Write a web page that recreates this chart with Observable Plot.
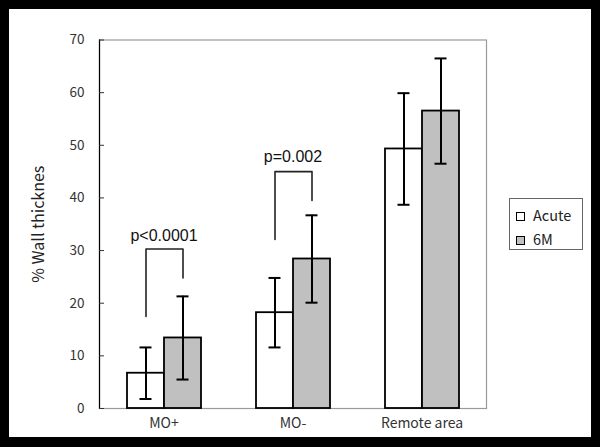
<!DOCTYPE html>
<html><head><meta charset="utf-8">
<script src="https://cdn.jsdelivr.net/npm/d3@7"></script>
<script src="https://cdn.jsdelivr.net/npm/@observablehq/plot@0.6"></script>
<style>
html,body{margin:0;padding:0;background:#000;width:600px;height:447px;overflow:hidden;}
#wrap{position:absolute;left:9px;top:9px;width:582px;height:428px;background:#fff;}
#legend{position:absolute;left:500px;top:189px;width:72px;height:50px;border:1px solid #666;background:#fff;font-family:"Noto Sans CJK JP","Liberation Sans",sans-serif;font-size:14.5px;color:#222;}
.item{position:absolute;left:6px;height:16px;line-height:16px;}
.sw{position:absolute;left:0;top:3px;width:7px;height:7px;border:1.5px solid #000;}
.lab{position:absolute;left:17px;top:-2px;white-space:nowrap;}
</style></head>
<body>
<div id="wrap"></div>
<script>
const groups = ["MO+", "MO-", "Remote area"];
const series = ["Acute", "6M"];
const seriesFill = ["#ffffff", "#c0c0c0"];
const acuteMean = [6.7, 18.2, 49.3];
const acuteSD = [4.9, 6.6, 10.6];
const m6Mean = [13.4, 28.4, 56.5];
const m6SD = [7.9, 8.3, 10.0];
const pLabels = ["p<0.0001", "p=0.002"];
const pGroups = ["MO+", "MO-"];
const pTextY = [31.9, 46.8];
const bracketTop = [30.3, 45.0];
const bracketLeftEnd = [17.5, 32.1];
const bracketRightEnd = [24.8, 39.5];
const yTicks = [0, 10, 20, 30, 40, 50, 60, 70];

const rows = [];
groups.forEach((g, i) => {
  rows.push({group: g, series: "Acute", mean: acuteMean[i], lo: acuteMean[i] - acuteSD[i], hi: acuteMean[i] + acuteSD[i]});
  rows.push({group: g, series: "6M", mean: m6Mean[i], lo: m6Mean[i] - m6SD[i], hi: m6Mean[i] + m6SD[i]});
});
const brackets = [];
pGroups.forEach((g, i) => {
  brackets.push({group: g, series: "Acute", v: bracketLeftEnd[i]});
  brackets.push({group: g, series: "Acute", v: bracketTop[i]});
  brackets.push({group: g, series: "6M", v: bracketTop[i]});
  brackets.push({group: g, series: "6M", v: bracketRightEnd[i]});
});
const pRows = pGroups.map((g, i) => ({group: g, text: pLabels[i], y: pTextY[i]}));

const chart = Plot.plot({
  width: 582, height: 428,
  marginLeft: 89, marginRight: 105, marginTop: 30.5, marginBottom: 29,
  style: {fontFamily: '"Noto Sans CJK JP","Liberation Sans",sans-serif', fontSize: "13px", color: "#333", background: "#fff"},
  fx: {domain: groups, padding: 0, label: null},
  x: {domain: series, paddingInner: 0, paddingOuter: 0.74, axis: null},
  y: {domain: [0, 70]},
  color: {domain: series, range: seriesFill},
  marks: [
    Plot.frame({facet: "super", stroke: "#999", strokeWidth: 1.2}),
    Plot.frame({facet: "super", anchor: "left", stroke: "#000", strokeWidth: 1.2}),
    Plot.barY(rows, {fx: "group", x: "series", y: "mean", fill: "series", stroke: "#000", strokeWidth: 1.8}),
    Plot.ruleX(rows, {fx: "group", x: "series", y1: "lo", y2: "hi", stroke: "#000", strokeWidth: 2}),
    Plot.tickY(rows, {fx: "group", x: "series", y: "lo", insetLeft: 12.5, insetRight: 12.5, stroke: "#000", strokeWidth: 2}),
    Plot.tickY(rows, {fx: "group", x: "series", y: "hi", insetLeft: 12.5, insetRight: 12.5, stroke: "#000", strokeWidth: 2}),
    Plot.line(brackets, {fx: "group", x: "series", y: "v", z: "group", stroke: "#222", strokeWidth: 1.6}),
    Plot.text(pRows, {fx: "group", y: "y", text: "text", fontSize: 16, fontFamily: '"Liberation Sans",Arial,sans-serif', fill: "#111", lineAnchor: "bottom"}),
    Plot.axisY({ticks: yTicks, tickSize: -5, tickPadding: 20, fontSize: 13.5, label: null}),
    Plot.axisY([], {label: "% Wall thicknes", labelAnchor: "center", labelArrow: "none", labelOffset: 67, fontSize: 16, fill: "#222"}),
    Plot.axisFx({anchor: "bottom", tickSize: 0, tickPadding: 10, fontSize: 14, label: null})
  ]
});
document.getElementById("wrap").appendChild(chart);

const legend = document.createElement("div");
legend.id = "legend";
series.forEach((s, i) => {
  const it = document.createElement("div");
  it.className = "item";
  it.style.top = (10 + i * 23.5) + "px";
  const sw = document.createElement("div");
  sw.className = "sw";
  sw.style.background = seriesFill[i];
  const lab = document.createElement("div");
  lab.className = "lab";
  lab.textContent = s;
  it.appendChild(sw); it.appendChild(lab);
  legend.appendChild(it);
});
document.getElementById("wrap").appendChild(legend);
</script>
</body></html>
